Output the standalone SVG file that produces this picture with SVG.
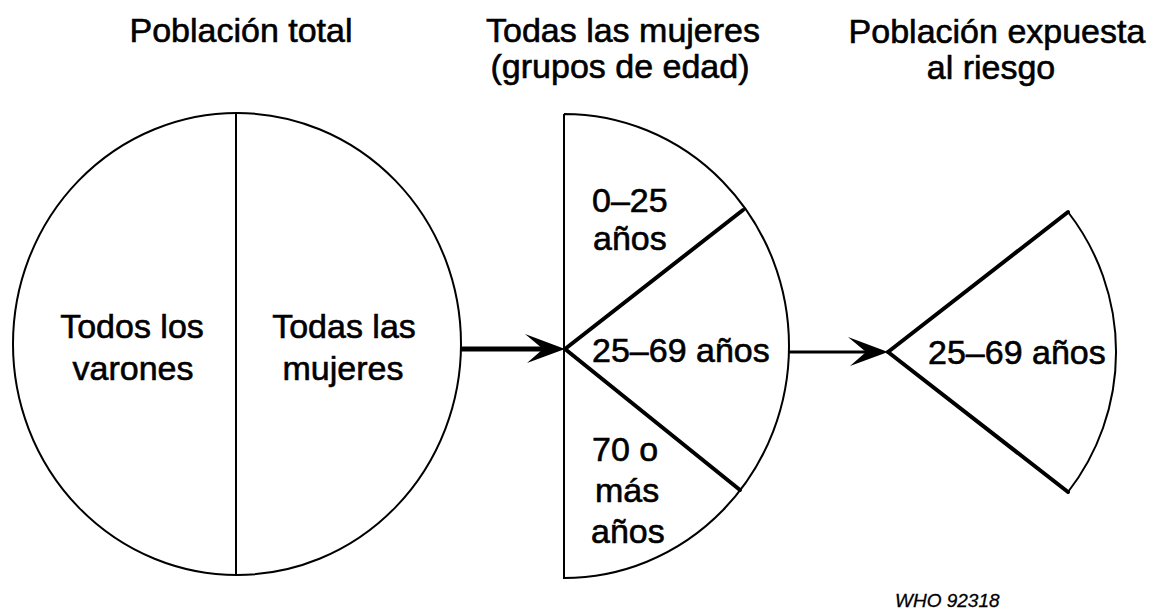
<svg xmlns="http://www.w3.org/2000/svg" width="1165" height="615" viewBox="0 0 1165 615">
  <style>
    .t { font-family: "Liberation Sans", Arial, Helvetica, sans-serif; font-size: 34px; fill: #000; stroke: #000; stroke-width: 0.6px; }
    .c { text-anchor: middle; }
    .thin { fill: none; stroke: #000; stroke-width: 2; }
    .thick { fill: none; stroke: #000; stroke-width: 4; stroke-linecap: round; }
    .conn { fill: none; stroke: #000; }
  </style>
  <defs>
    <marker id="ah" markerUnits="userSpaceOnUse" markerWidth="50" markerHeight="36" viewBox="-32 -18 50 36" refX="0" refY="0" orient="auto">
      <path d="M10,0 L-30,-15 L-12,0 L-28,14 Z" fill="#000"/>
    </marker>
  </defs>
  <rect width="1165" height="615" fill="#fff"/>

  <g id="titles">
    <text class="t c" x="241" y="42">Población total</text>
    <text class="t c" x="623" y="42">Todas las mujeres</text>
    <text class="t c" x="620" y="78">(grupos de edad)</text>
    <text class="t c" x="997" y="43">Población expuesta</text>
    <text class="t c" x="991" y="79">al riesgo</text>
  </g>

  <g id="poblacion-total">
    <ellipse class="thin" cx="237" cy="344" rx="224" ry="231"/>
    <line class="thin" x1="236" y1="113" x2="236" y2="575"/>
    <text class="t c" x="132" y="338">Todos los</text>
    <text class="t c" x="133" y="380">varones</text>
    <text class="t c" x="344" y="338">Todas las</text>
    <text class="t c" x="343" y="380">mujeres</text>
  </g>

  <g id="todas-las-mujeres">
    <path class="thin" d="M564,114 L564,578 A225,232 0 0 0 564,114"/>
    <line class="thick" x1="565" y1="349" x2="743" y2="210"/>
    <line class="thick" x1="565" y1="349" x2="740" y2="490"/>
    <text class="t" x="592" y="212">0–25</text>
    <text class="t" x="593" y="250">años</text>
    <text class="t" x="592" y="362">25–69 años</text>
    <text class="t" x="592" y="461">70 o</text>
    <text class="t" x="595" y="502">más</text>
    <text class="t" x="591" y="543">años</text>
  </g>

  <g id="poblacion-expuesta">
    <path class="thin" d="M1068,212 A228,228 0 0 1 1068,492"/>
    <line class="thick" x1="888" y1="352" x2="1068" y2="212"/>
    <line class="thick" x1="888" y1="352" x2="1068" y2="492"/>
    <text class="t" x="928" y="364">25–69 años</text>
  </g>

  <g id="connectors">
    <line class="conn" x1="461" y1="349" x2="555" y2="349" stroke-width="5" marker-end="url(#ah)"/>
    <line class="conn" x1="789" y1="352" x2="878" y2="352" stroke-width="3" marker-end="url(#ah)"/>
  </g>

  <text class="t" x="895" y="607" style="font-size:19px;font-style:italic;stroke-width:0.3px">WHO 92318</text>
</svg>
